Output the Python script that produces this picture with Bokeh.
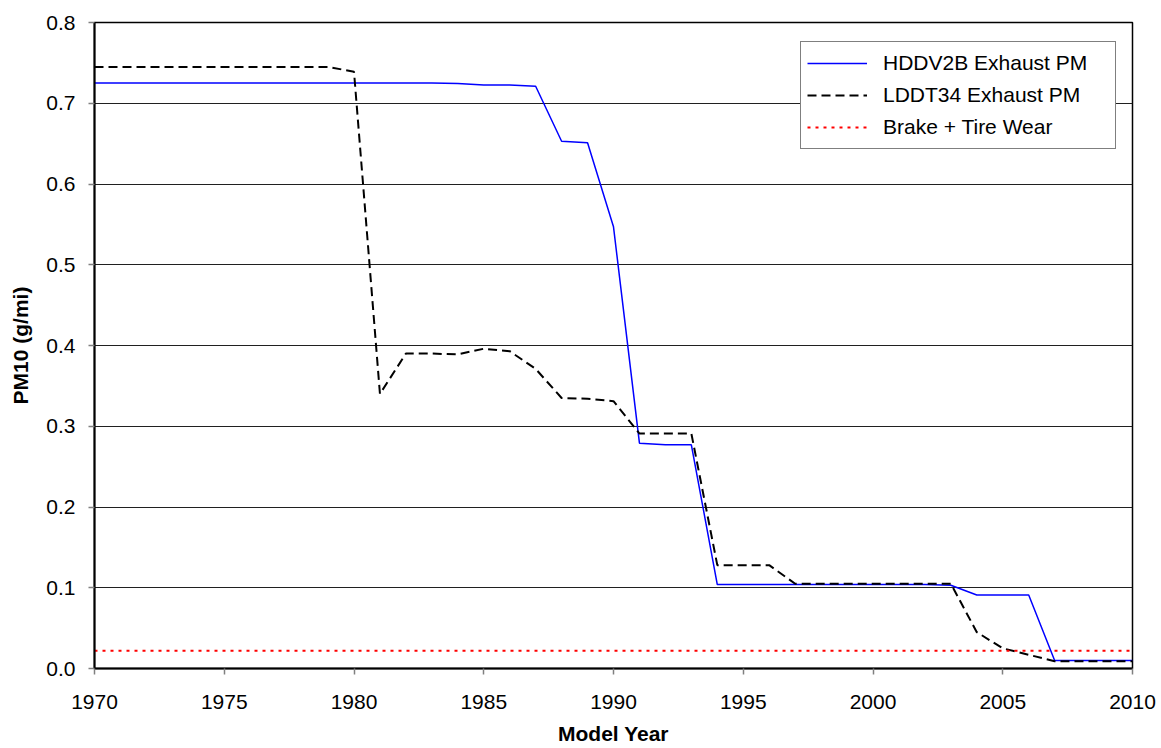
from bokeh.plotting import figure
from bokeh.models import Range1d, SingleIntervalTicker, NumeralTickFormatter, Legend, LegendItem
from bokeh.embed import file_html
from bokeh.resources import INLINE

years = list(range(1970, 2011))
hddv2b = [0.725, 0.725, 0.725, 0.725, 0.725, 0.725, 0.725, 0.725, 0.725, 0.725,
          0.725, 0.725, 0.725, 0.725, 0.7245, 0.7225, 0.7225, 0.721, 0.653, 0.651,
          0.547, 0.279, 0.277, 0.277, 0.104, 0.104, 0.104, 0.104, 0.104, 0.104,
          0.104, 0.104, 0.104, 0.103, 0.091, 0.091, 0.091, 0.010, 0.010, 0.010,
          0.010]
lddt34 = [0.745, 0.745, 0.745, 0.745, 0.745, 0.745, 0.745, 0.745, 0.745, 0.745,
          0.739, 0.340, 0.390, 0.390, 0.389, 0.396, 0.393, 0.371, 0.335, 0.334,
          0.331, 0.291, 0.291, 0.291, 0.128, 0.128, 0.128, 0.105, 0.105, 0.105,
          0.105, 0.105, 0.105, 0.105, 0.045, 0.025, 0.017, 0.009, 0.009, 0.009,
          0.009]
brake_tire = [0.022] * len(years)

series_names = ["HDDV2B Exhaust PM", "LDDT34 Exhaust PM", "Brake + Tire Wear"]
x_label = "Model Year"
y_label = "PM10 (g/mi)"

FONT = "Liberation Sans"

p = figure(width=1161, height=748, output_backend="svg", toolbar_location=None,
           x_range=Range1d(1970, 2010), y_range=Range1d(0, 0.8),
           min_border_left=94, min_border_top=22, min_border_right=29, min_border_bottom=80)

p.background_fill_color = "white"
p.border_fill_color = "white"
p.outline_line_color = "black"
p.outline_line_width = 1.5

r1 = p.line(years, hddv2b, line_color="#0000FF", line_width=1.5)
r2 = p.line(years, lddt34, line_color="black", line_width=2, line_dash="9 5")
r3 = p.line(years, brake_tire, line_color="#FF0000", line_width=2, line_dash="3 5")

p.xaxis.ticker = SingleIntervalTicker(interval=5)
p.yaxis.ticker = SingleIntervalTicker(interval=0.1)
p.yaxis.formatter = NumeralTickFormatter(format="0.0")

for ax in (p.xaxis, p.yaxis):
    ax.axis_line_color = "black"
    ax.axis_line_width = 2
    ax.major_tick_line_color = "#808080"
    ax.major_tick_line_width = 1.5
    ax.major_tick_in = 0
    ax.major_tick_out = 6
    ax.minor_tick_line_color = None
    ax.major_label_text_font = FONT
    ax.major_label_text_font_size = "21px"
    ax.major_label_text_color = "black"
    ax.axis_label_text_font = FONT
    ax.axis_label_text_font_size = "21px"
    ax.axis_label_text_font_style = "bold"
    ax.axis_label_text_color = "black"

p.xaxis.axis_label = x_label
p.yaxis.axis_label = y_label
p.xaxis.major_label_standoff = 20
p.xaxis.axis_label_standoff = 10
p.yaxis.major_label_standoff = 13
p.yaxis.axis_label_standoff = 11

p.xgrid.grid_line_color = None
p.ygrid.grid_line_color = "#202020"
p.ygrid.grid_line_width = 1

legend = Legend(items=[LegendItem(label=series_names[0], renderers=[r1]),
                       LegendItem(label=series_names[1], renderers=[r2]),
                       LegendItem(label=series_names[2], renderers=[r3])],
                location=(706, 519))
legend.label_text_font = FONT
legend.label_text_font_size = "21px"
legend.label_text_color = "black"
legend.border_line_color = "black"
legend.border_line_width = 1.5
legend.background_fill_color = "white"
legend.background_fill_alpha = 1
legend.padding = 6
legend.spacing = 2
legend.glyph_width = 60
legend.glyph_height = 20
legend.label_standoff = 16
legend.label_width = 226
legend.label_height = 30
legend.margin = 0
p.add_layout(legend)

open("out.html", "w").write(file_html(p, INLINE))
